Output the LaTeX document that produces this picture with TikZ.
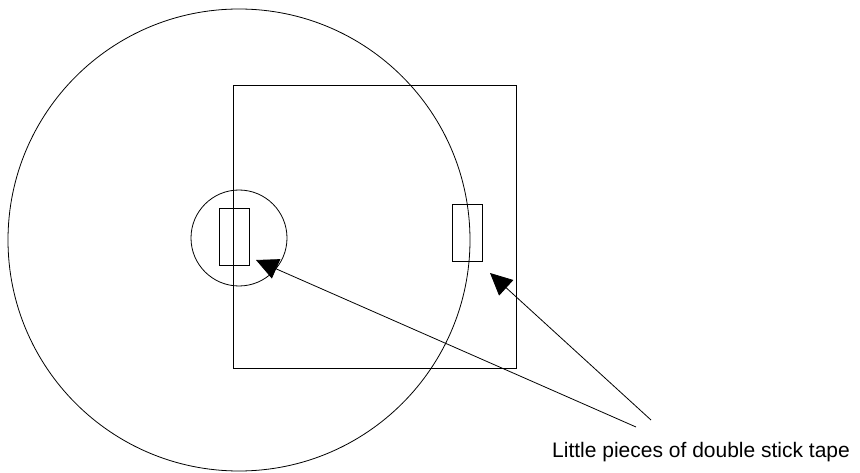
\documentclass[tikz,border=0pt]{standalone}
\usepackage{fontspec}
\setmainfont{Liberation Sans}
\usetikzlibrary{arrows.meta,positioning}
\tikzset{
  trazo/.style={
    draw=black,
    line width=.8pt
  },
  cinta/.style={
    rectangle,
    draw=black,
    line width=.8pt,
    minimum width=30pt,
    minimum height=57pt,
    inner sep=0pt
  },
  rotulo/.style={
    font=\fontsize{21}{25}\selectfont,
    inner sep=0pt
  },
  flecha/.style={
    -{Triangle[length=22pt,width=21pt]},
    line width=.8pt,
    black
  }
}
\begin{document}
\begin{tikzpicture}[x=1pt,y=-1pt]
\useasboundingbox (0,0) rectangle (860,473);
% disco grande y placa
\draw[trazo] (239,240) circle[radius=231];
\draw[trazo] (233,85) rectangle (516,368);
% circulo pequeno alrededor de la cinta izquierda
\draw[trazo] (239,238) circle[radius=48];
% trozos de cinta
\node[cinta] (cintaizq) at (234,236.5) {};
\node[cinta] (cintader) at (467,232.5) {};
% rotulo
\node[rotulo, anchor=base west] (rotulo) at (552,457) {Little pieces of double stick tape};
\coordinate (origenizq) at (636,427);
\coordinate (origender) at (651,420);
\coordinate (puntaizq) at (256,260);
\coordinate (puntader) at (490,273);
\draw[flecha] (origenizq) -- (puntaizq);
\draw[flecha] (origender) -- (puntader);
\end{tikzpicture}
\end{document}
